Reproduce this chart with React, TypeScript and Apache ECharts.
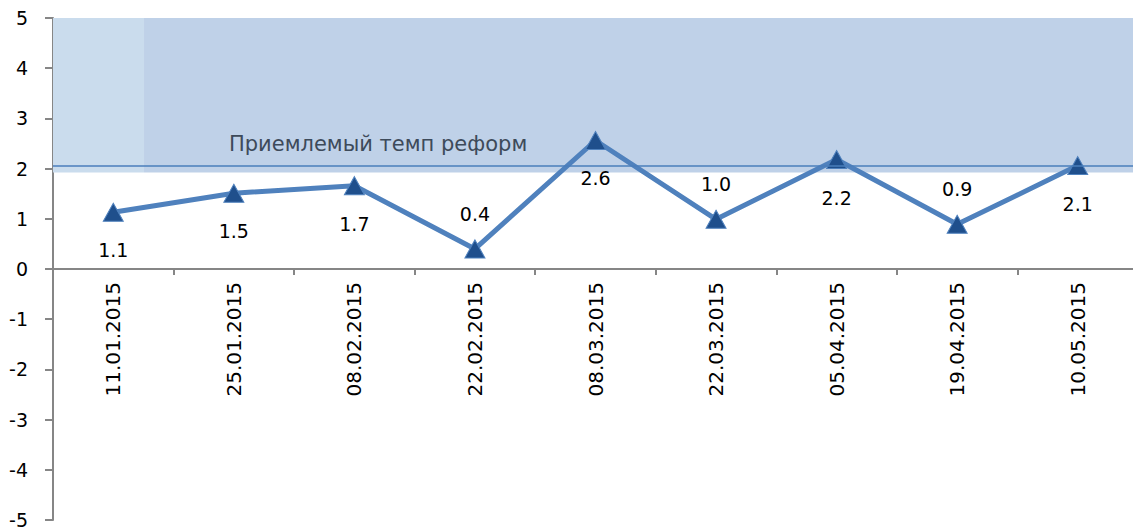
import React, { useEffect, useRef } from "react";
import * as echarts from "echarts";

const categories = [
  "11.01.2015",
  "25.01.2015",
  "08.02.2015",
  "22.02.2015",
  "08.03.2015",
  "22.03.2015",
  "05.04.2015",
  "19.04.2015",
  "10.05.2015",
];
const values = [1.13, 1.51, 1.66, 0.4, 2.56, 0.99, 2.18, 0.89, 2.06];
const labelPlacement = ["bottom", "bottom", "bottom", "top", "bottom", "top", "bottom", "top", "bottom"];
const yTicks = { min: -5, max: 5, interval: 1 };
const bandLow = 1.92;
const bandHigh = 5;
const acceptableLevel = 2.06;
const acceptableLabel = "Приемлемый темп реформ";
const lightBandEnd = 0.755;

const FONT = "DejaVu Sans";
const GRID_H = 502;

export default function App() {
  const ref = useRef<HTMLDivElement>(null);
  useEffect(() => {
    document.body.style.margin = "0";
    const chart = echarts.init(ref.current!, undefined, { renderer: "svg" });
    // place the category axis at y = 0 of the value scale
    const zeroOffset = -GRID_H * ((0 - yTicks.min) / (yTicks.max - yTicks.min));
    chart.setOption({
      animation: false,
      backgroundColor: "#ffffff",
      textStyle: { fontFamily: FONT },
      grid: {
        left: 53,
        top: 18,
        width: 1085,
        height: GRID_H,
        containLabel: false,
        outerBoundsMode: "none",
      },
      xAxis: [
        {
          type: "category",
          data: categories,
          boundaryGap: true,
          position: "bottom",
          offset: zeroOffset,
          axisLine: { onZero: false, lineStyle: { color: "#868686", width: 2 } },
          axisTick: { show: true, length: 6, lineStyle: { color: "#868686", width: 2 } },
          axisLabel: {
            rotate: 90,
            margin: 13,
            fontSize: 20,
            fontFamily: FONT,
            color: "#000000",
          },
          splitLine: { show: false },
        },
        { type: "value", min: 0, max: categories.length, show: false },
      ],
      yAxis: {
        type: "value",
        min: yTicks.min,
        max: yTicks.max,
        interval: yTicks.interval,
        axisLine: { show: true, lineStyle: { color: "#868686", width: 2 } },
        axisTick: { show: true, length: 8, lineStyle: { color: "#868686", width: 2 } },
        axisLabel: { margin: 25, fontSize: 19, fontFamily: FONT, color: "#000000" },
        splitLine: { show: false },
      },
      series: [
        {
          type: "line",
          xAxisIndex: 1,
          yAxisIndex: 0,
          data: [],
          z: 1,
          silent: true,
          markArea: {
            silent: true,
            data: [
              [
                { xAxis: 0, yAxis: bandLow, itemStyle: { color: "#cadced" } },
                { xAxis: lightBandEnd, yAxis: bandHigh },
              ],
              [
                { xAxis: lightBandEnd, yAxis: bandLow, itemStyle: { color: "#bfd1e8" } },
                { xAxis: categories.length, yAxis: bandHigh },
              ],
            ],
          },
        },
        {
          type: "line",
          data: values.map((v, i) => ({
            value: v,
            label: { position: labelPlacement[i], distance: labelPlacement[i] === "top" ? 16 : 19 },
          })),
          z: 3,
          symbol: "triangle",
          symbolSize: [20, 18],
          lineStyle: { color: "#4f81bd", width: 5 },
          itemStyle: { color: "#1f4f8c", borderColor: "#4f81bd", borderWidth: 1 },
          label: {
            show: true,
            fontSize: 19,
            fontFamily: FONT,
            color: "#000000",
            formatter: (p: any) => Number(p.value).toFixed(1),
          },
          markLine: {
            silent: true,
            symbol: "none",
            lineStyle: { color: "#4a7ebb", width: 1.5, type: "solid" },
            label: {
              show: true,
              position: "insideStartTop",
              formatter: acceptableLabel,
              fontSize: 21,
              fontFamily: FONT,
              color: "#3d4a5a",
              padding: [0, 0, 0, 165],
              distance: 11,
            },
            data: [{ yAxis: acceptableLevel }],
          },
        },
      ],
    });
    return () => chart.dispose();
  }, []);
  return <div ref={ref} style={{ width: 1133, height: 531 }} />;
}
